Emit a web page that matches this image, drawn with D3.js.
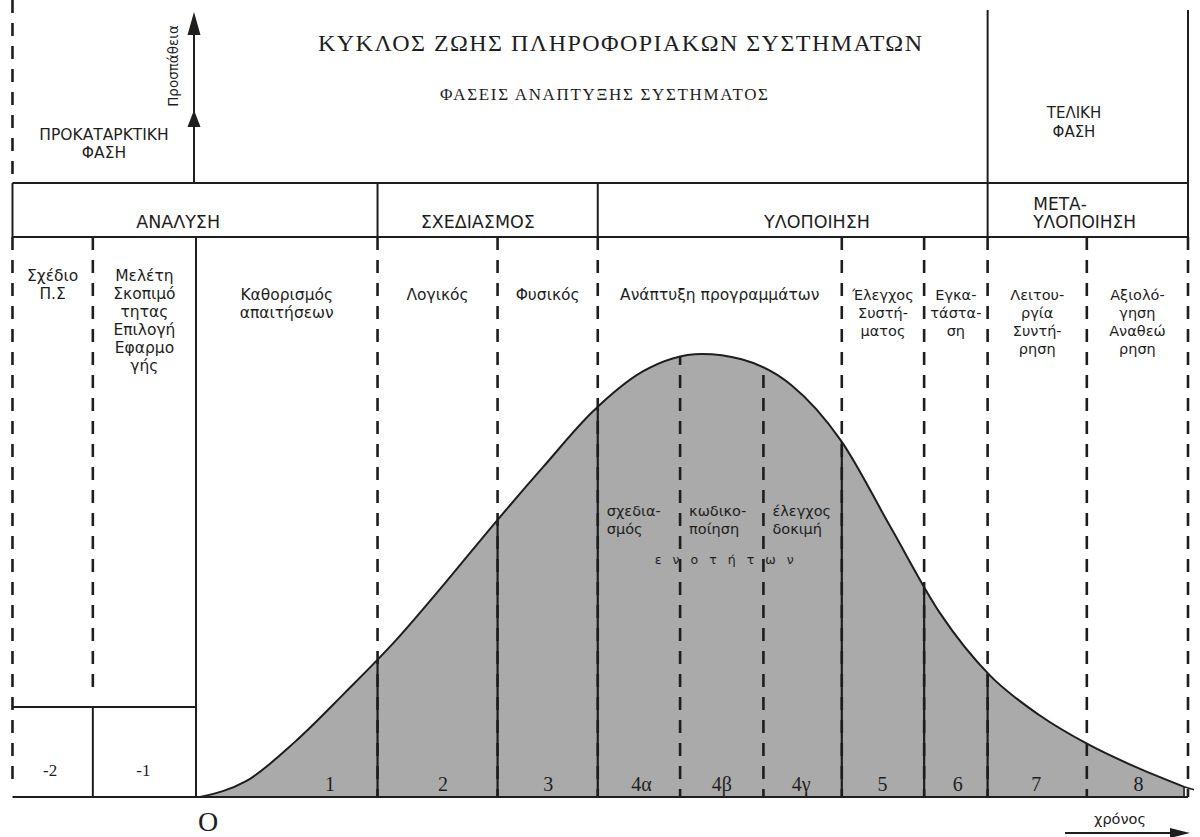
<!DOCTYPE html>
<html><head><meta charset="utf-8">
<script src="https://cdn.jsdelivr.net/npm/d3@7"></script>
<style>body{margin:0;background:#fff}</style>
</head><body><svg id="c" width="1200" height="837"></svg>
<script>
// ---------------- DATA ----------------
const title = "ΚΥΚΛΟΣ ΖΩΗΣ ΠΛΗΡΟΦΟΡΙΑΚΩΝ ΣΥΣΤΗΜΑΤΩΝ";
const subtitle = "ΦΑΣΕΙΣ ΑΝΑΠΤΥΞΗΣ ΣΥΣΤΗΜΑΤΟΣ";
const preliminaryStage = ["ΠΡΟΚΑΤΑΡΚΤΙΚΗ", "ΦΑΣΗ"];
const finalStage = ["ΤΕΛΙΚΗ", "ΦΑΣΗ"];
const yAxisLabel = "Προσπάθεια";
const xAxisLabel = "χρόνος";
const originLabel = "O";
const phaseNames = [["ΑΝΑΛΥΣΗ"], ["ΣΧΕΔΙΑΣΜΟΣ"], ["ΥΛΟΠΟΙΗΣΗ"], ["ΜΕΤΑ-", "ΥΛΟΠΟΙΗΣΗ"]];
const phaseLabelT = [-1.8, 28.4, 62.6, 84.4];
const phaseBounds = [-18.5, 18.3, 40.5, 79.8, 100];
const stepIds = ["-2", "-1", "1", "2", "3", "4α", "4β", "4γ", "5", "6", "7", "8"];
const stepLabelT = [-14.7, -5.3, 13.5, 24.9, 35.5, 44.9, 53.0, 61.0, 69.2, 76.8, 84.7, 95.0];
const stepBounds = [-18.5, -10.4, 0, 18.3, 30.4, 40.5, 48.8, 57.2, 65.1, 73.4, 79.8, 89.8, 100];
const activityNames = [
  ["Σχέδιο", "Π.Σ"],
  ["Μελέτη", "Σκοπιμό", "τητας", "Επιλογή", "Εφαρμο", "γής"],
  ["Καθορισμός", "απαιτήσεων"],
  ["Λογικός"],
  ["Φυσικός"],
  ["Ανάπτυξη προγραμμάτων"],
  ["Έλεγχος", "Συστή-", "ματος"],
  ["Εγκα-", "τάστα-", "ση"],
  ["Λειτου-", "ργία", "Συντή-", "ρηση"],
  ["Αξιολό-", "γηση", "Αναθεώ", "ρηση"]
];
const activitySpans = [[0, 1], [1, 2], [2, 3], [3, 4], [4, 5], [5, 8], [8, 9], [9, 10], [10, 11], [11, 12]];
const unitTasks = [["σχεδια-", "σμός"], ["κωδικο-", "ποίηση"], ["έλεγχος", "δοκιμή"]];
const unitWord = "ενοτήτων";
const curveTime   = [0.4, 5,   10,   15,   20, 25, 30,   35,   40, 45, 51,  55,   60, 65,   70, 75,   80,   85,   90,   95,  99.6];
const curveEffort = [0,   3.5, 12.5, 23.5, 35, 48, 61.5, 74.5, 87, 96, 100, 98.8, 93, 80.5, 61, 41.5, 27.5, 18.5, 11.8, 6.5, 2.3];

// ---------------- LAYOUT ----------------
const svg = d3.select("#c");
const topY = 10, headTop = 183, headBot = 237, preBoxY = 707, baseY = 797;
const x = d3.scaleLinear().domain([0, 100]).range([196, 1188]);
const y = d3.scaleLinear().domain([0, 100]).range([baseY, 354]);
const ink = "#1e1e1e";
const sans = "'DejaVu Sans', Verdana, sans-serif";
const serif = "'Liberation Serif', 'Times New Roman', serif";
const dash = "13,10";

const curvePts = curveTime.map((t, i) => ({t, e: curveEffort[i]}));
const area = d3.area().x(d => x(d.t)).y0(y(0)).y1(d => y(d.e)).curve(d3.curveMonotoneX);
const line = d3.line().x(d => x(d.t)).y(d => y(d.e)).curve(d3.curveMonotoneX);

svg.append("defs").append("clipPath").attr("id", "under").append("path").attr("d", area(curvePts));

svg.append("path").attr("d", area(curvePts)).attr("fill", "#aaaaaa");
svg.append("path").attr("d", line(curvePts)).attr("fill", "none").attr("stroke", ink).attr("stroke-width", 2);
const last = curvePts[curvePts.length - 1];
svg.append("path")
  .attr("d", `M${x(last.t)},${y(last.e)} L${x(last.t)},${baseY} M${x(last.t)},${y(last.e)} L${x(last.t) + 10},${y(last.e) + 3}`)
  .attr("fill", "none").attr("stroke", ink).attr("stroke-width", 1.6);

function vline(t, y1, y2, dashed, clip, w) {
  const l = svg.append("line").attr("x1", x(t)).attr("x2", x(t)).attr("y1", y1).attr("y2", y2)
    .attr("stroke", ink).attr("stroke-width", w || (dashed ? 2.6 : 2));
  if (dashed) l.attr("stroke-dasharray", dash);
  if (clip) l.attr("clip-path", "url(#under)");
  return l;
}
function hline(t1, t2, yy) {
  svg.append("line").attr("x1", x(t1)).attr("x2", x(t2)).attr("y1", yy).attr("y2", yy)
    .attr("stroke", ink).attr("stroke-width", 2);
}

hline(stepBounds[0], stepBounds[12], headTop);
hline(stepBounds[0], stepBounds[12], headBot);
hline(stepBounds[0], stepBounds[2], preBoxY);
hline(stepBounds[0], stepBounds[12], baseY);

phaseBounds.forEach((b, i) => {
  const top = (i >= 3) ? topY : headTop;
  vline(b, top, headBot, false);
});
vline(stepBounds[0], 0, headTop, true);

stepBounds.forEach((b, i) => {
  if (i === 0) { vline(b, headBot, baseY - 10, true); return; }
  if (i === 1) { vline(b, headBot, preBoxY - 14, true); vline(b, preBoxY, baseY, false); return; }
  if (i === 2) { vline(b, headBot, baseY, false); return; }
  if (i === 6 || i === 7) { vline(b, headBot, baseY, true, true); return; }
  if (i === 11 || i === 12) { vline(b, headBot, baseY, true); return; }
  vline(b, headBot, baseY, true);
  vline(b, headBot, baseY, false, true, 2.2);
});

// Y axis arrow (effort)
const ax = x(0) - 2;
svg.append("line").attr("x1", ax).attr("x2", ax).attr("y1", headTop).attr("y2", 30)
  .attr("stroke", ink).attr("stroke-width", 2);
[[12, 35], [110, 127]].forEach(([tip, base]) => {
  svg.append("path").attr("d", `M${ax},${tip} L${ax - 6.5},${base} L${ax + 6.5},${base} Z`).attr("fill", ink);
});
svg.append("text").attr("transform", `translate(${ax - 20},66) rotate(-90)`)
  .attr("text-anchor", "middle").attr("dominant-baseline", "middle")
  .attr("font-family", sans).attr("font-size", 13.5).attr("fill", ink).text(yAxisLabel);

// X axis arrow (time)
svg.append("line").attr("x1", 1065).attr("x2", 1176).attr("y1", 833).attr("y2", 833)
  .attr("stroke", ink).attr("stroke-width", 2);
svg.append("path").attr("d", `M1190,833 L1170,828 L1170,838 Z`).attr("fill", ink);
svg.append("text").attr("x", 1120).attr("y", 824).attr("text-anchor", "middle")
  .attr("font-family", sans).attr("font-size", 14.5).attr("fill", ink).text(xAxisLabel);
svg.append("text").attr("x", x(0) + 12).attr("y", 831).attr("text-anchor", "middle")
  .attr("font-family", serif).attr("font-size", 28).attr("fill", ink).text(originLabel);

// titles
svg.append("text").attr("x", 620).attr("y", 51).attr("text-anchor", "middle")
  .attr("font-family", serif).attr("font-size", 24).attr("fill", ink)
  .attr("textLength", 604).attr("lengthAdjust", "spacing").text(title);
svg.append("text").attr("x", 604).attr("y", 100).attr("text-anchor", "middle")
  .attr("font-family", serif).attr("font-size", 17).attr("fill", ink)
  .attr("textLength", 328).attr("lengthAdjust", "spacing").text(subtitle);

function multiText(cx, y0, lines, size, anchor, lh) {
  const t = svg.append("text").attr("text-anchor", anchor || "middle")
    .attr("font-family", sans).attr("font-size", size).attr("fill", ink);
  lines.forEach((s, i) => t.append("tspan").attr("x", cx).attr("y", y0 + i * (lh || 18)).text(s));
  return t;
}
multiText(104, 140, preliminaryStage, 15.5, "middle", 18);
multiText(1074, 118, finalStage, 15, "middle", 19);

phaseNames.forEach((p, i) => {
  if (p.length === 1) multiText(x(phaseLabelT[i]), 228, p, 17.5, "middle");
  else multiText(x(phaseLabelT[i]), 210, p, 17, "start", 18);
});

activityNames.forEach((lines, i) => {
  const [a, b] = activitySpans[i];
  const cx = (x(stepBounds[a]) + x(stepBounds[b])) / 2;
  const y0 = i < 2 ? 281 : 300;
  multiText(cx, y0, lines, i >= 6 ? 14.5 : 15.5, "middle", 18);
});

unitTasks.forEach((lines, i) => {
  multiText(x(stepBounds[5 + i]) + 9, 516, lines, 14.5, "start", 18);
});
svg.append("text").attr("x", (x(stepBounds[5]) + x(stepBounds[8])) / 2 + 10).attr("y", 564)
  .attr("text-anchor", "middle").attr("font-family", sans).attr("font-size", 12.5)
  .attr("letter-spacing", 11).attr("fill", ink).text(unitWord);

stepIds.forEach((s, i) => {
  const neg = i < 2;
  svg.append("text").attr("x", x(stepLabelT[i])).attr("y", neg ? 776 : 791)
    .attr("text-anchor", "middle").attr("font-family", serif)
    .attr("font-size", neg ? 17 : 20).attr("fill", ink).text(s);
});
</script></body></html>
